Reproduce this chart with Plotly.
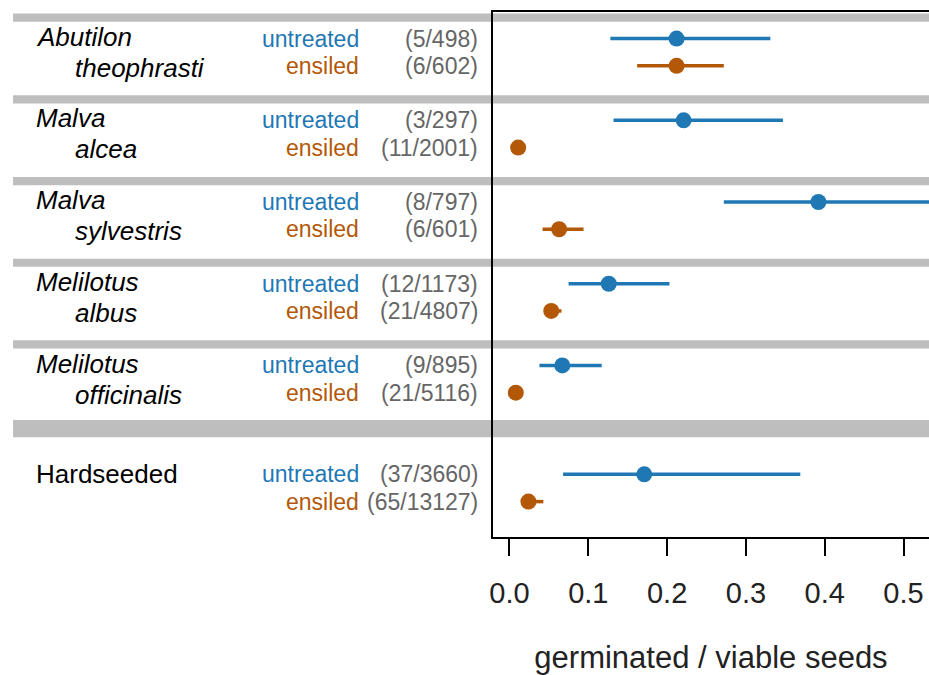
import plotly.graph_objects as go

# ---- data ----
species_line1 = ["Abutilon", "Malva", "Malva", "Melilotus", "Melilotus", "Hardseeded"]
species_line2 = ["theophrasti", "alcea", "sylvestris", "albus", "officinalis", ""]
species_italic = [True, True, True, True, True, False]
treatments = ["untreated", "ensiled"]

counts_untreated = ["(5/498)", "(3/297)", "(8/797)", "(12/1173)", "(9/895)", "(37/3660)"]
counts_ensiled = ["(6/602)", "(11/2001)", "(6/601)", "(21/4807)", "(21/5116)", "(65/13127)"]

est_untreated = [0.212, 0.221, 0.392, 0.126, 0.067, 0.171]
low_untreated = [0.128, 0.132, 0.272, 0.075, 0.038, 0.068]
up_untreated = [0.331, 0.347, 0.535, 0.203, 0.117, 0.369]

est_ensiled = [0.212, 0.011, 0.063, 0.053, 0.008, 0.024]
low_ensiled = [0.162, 0.008, 0.042, 0.045, 0.005, 0.017]
up_ensiled = [0.272, 0.014, 0.094, 0.066, 0.011, 0.043]

tick_vals = [0.0, 0.1, 0.2, 0.3, 0.4, 0.5]
tick_text = ["0.0", "0.1", "0.2", "0.3", "0.4", "0.5"]

# ---- layout positions ----
group_offsets = [0, 3, 6, 9, 12, 16]
y_unt = [g for g in group_offsets]
y_ens = [g + 1 for g in group_offsets]

BLUE = "#1f78b4"
ORANGE = "#b35806"
GRAY_TXT = "#666666"
BAND = "#bebebe"
FONT = "Liberation Sans, Arial, sans-serif"

W, H = 929, 675
L, R, T, B = 492.5, 0, 12, 138
pw = W - L - R


def px2paper(px):
    return (px - L) / pw


fig = go.Figure()

# bands
band_y = [g - 0.77 for g in group_offsets[:5]]
for by in band_y:
    fig.add_shape(type="rect", xref="paper", yref="y", x0=px2paper(12), x1=px2paper(935),
                  y0=by - 0.15, y1=by + 0.15, fillcolor=BAND, line_width=0, layer="below")
fig.add_shape(type="rect", xref="paper", yref="y", x0=px2paper(12), x1=px2paper(935),
              y0=14.0, y1=14.64, fillcolor=BAND, line_width=0, layer="below")

fig.add_trace(go.Scatter(
    x=est_untreated, y=y_unt, mode="markers",
    marker=dict(color=BLUE, size=16),
    error_x=dict(type="data", symmetric=False,
                 array=[u - e for u, e in zip(up_untreated, est_untreated)],
                 arrayminus=[e - l for e, l in zip(est_untreated, low_untreated)],
                 color=BLUE, thickness=3.5, width=0),
    showlegend=False, cliponaxis=True))
fig.add_trace(go.Scatter(
    x=est_ensiled, y=y_ens, mode="markers",
    marker=dict(color=ORANGE, size=16),
    error_x=dict(type="data", symmetric=False,
                 array=[u - e for u, e in zip(up_ensiled, est_ensiled)],
                 arrayminus=[e - l for e, l in zip(est_ensiled, low_ensiled)],
                 color=ORANGE, thickness=3.5, width=0),
    showlegend=False, cliponaxis=True))

SP = 26
TR = 23
NUDGE = 0.07
ann = []
for i in range(len(species_line1)):
    it = species_italic[i]
    txt1 = f"<i>{species_line1[i]}</i>" if it else species_line1[i]
    ann.append(dict(x=px2paper(33), y=y_unt[i] - (NUDGE if species_line2[i] else 0),
                    xref="paper", yref="y", text=txt1,
                    showarrow=False, xanchor="left", yanchor="middle",
                    font=dict(size=SP, color="black", family=FONT)))
    if species_line2[i]:
        txt2 = f"<i>{species_line2[i]}</i>" if it else species_line2[i]
        ann.append(dict(x=px2paper(72), y=y_ens[i] + NUDGE, xref="paper", yref="y", text=txt2,
                        showarrow=False, xanchor="left", yanchor="middle",
                        font=dict(size=SP, color="black", family=FONT)))
    ann.append(dict(x=px2paper(360), y=y_unt[i], xref="paper", yref="y", text=treatments[0],
                    showarrow=False, xanchor="right", yanchor="middle",
                    font=dict(size=TR, color=BLUE, family=FONT)))
    ann.append(dict(x=px2paper(360), y=y_ens[i], xref="paper", yref="y", text=treatments[1],
                    showarrow=False, xanchor="right", yanchor="middle",
                    font=dict(size=TR, color=ORANGE, family=FONT)))
    ann.append(dict(x=px2paper(479), y=y_unt[i], xref="paper", yref="y", text=counts_untreated[i],
                    showarrow=False, xanchor="right", yanchor="middle",
                    font=dict(size=TR, color=GRAY_TXT, family=FONT)))
    ann.append(dict(x=px2paper(479), y=y_ens[i], xref="paper", yref="y", text=counts_ensiled[i],
                    showarrow=False, xanchor="right", yanchor="middle",
                    font=dict(size=TR, color=GRAY_TXT, family=FONT)))

fig.update_layout(
    width=W, height=H,
    margin=dict(l=L, r=R, t=T, b=B, pad=0),
    paper_bgcolor="white", plot_bgcolor="white",
    annotations=ann,
    font=dict(family=FONT),
    xaxis=dict(range=[(L - 509) / 789, (W - 509) / 789],
               tickvals=tick_vals, ticktext=tick_text,
               ticks="outside", ticklen=17, tickwidth=2, tickcolor="black",
               showline=True, linecolor="black", linewidth=2, mirror=True,
               showgrid=False, zeroline=False,
               tickfont=dict(size=29, color="#222222", family=FONT),
               ticklabelstandoff=12,
               title=dict(text="germinated / viable seeds", standoff=40,
                          font=dict(size=31, color="#222222", family=FONT))),
    yaxis=dict(range=[18.30, -0.977], showticklabels=False, ticks="",
               showline=True, linecolor="black", linewidth=2, mirror=False,
               showgrid=False, zeroline=False),
)

fig.write_html("out.html")
